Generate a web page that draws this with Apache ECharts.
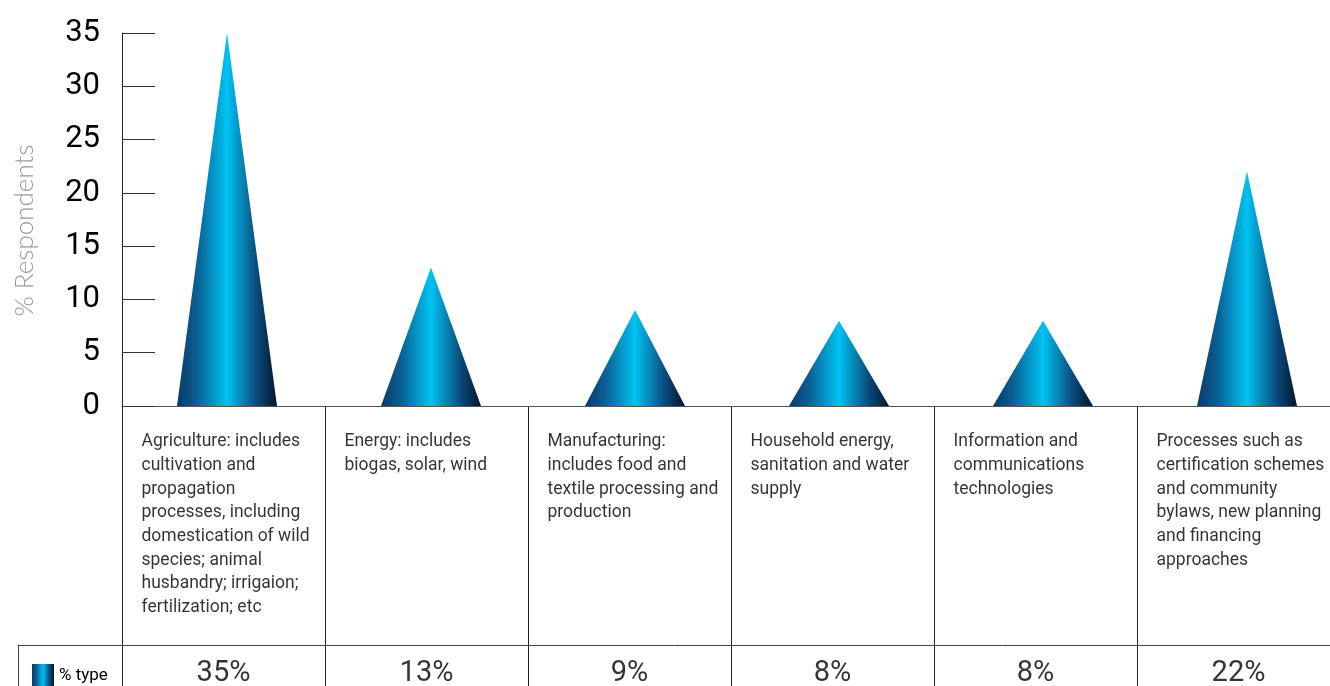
<!DOCTYPE html>
<html>
<head>
<meta charset="utf-8">
<script src="https://cdn.jsdelivr.net/npm/echarts@6/dist/echarts.min.js"></script>
<style>
html,body{margin:0;padding:0;background:#fff;}
#main{width:1330px;height:686px;}
</style>
</head>
<body>
<div id="main"></div>
<script>
// ---- data ----
const categories = [
  "Agriculture: includes\ncultivation and\npropagation\nprocesses, including\ndomestication of wild\nspecies; animal\nhusbandry; irrigaion;\nfertilization; etc",
  "Energy: includes\nbiogas, solar, wind",
  "Manufacturing:\nincludes food and\ntextile processing and\nproduction",
  "Household energy,\nsanitation and water\nsupply",
  "Information and\ncommunications\ntechnologies",
  "Processes such as\ncertification schemes\nand community\nbylaws, new planning\nand financing\napproaches"
];
const values = [35, 13, 9, 8, 8, 22];
const seriesName = "% type";
const yAxisName = "% Respondents";
const yTicks = [0, 5, 10, 15, 20, 25, 30, 35];

// ---- chart ----
const FONT = "Roboto, 'Liberation Sans', sans-serif";
const grad = {
  type: 'linear', x: 0, y: 0, x2: 1, y2: 0,
  colorStops: [
    {offset: 0, color: '#0a3a68'},
    {offset: 0.2, color: '#0a5f92'},
    {offset: 0.5, color: '#00c3f2'},
    {offset: 0.8, color: '#0a4a7a'},
    {offset: 1, color: '#04142c'}
  ]
};
const chart = echarts.init(document.getElementById('main'), null, {renderer: 'canvas'});
const option = {
  backgroundColor: '#fff',
  animation: false,
  textStyle: {fontFamily: FONT},
  legend: {
    data: [seriesName],
    left: 27, top: 659,
    icon: 'rect', itemWidth: 22, itemHeight: 24, itemGap: 6,
    textStyle: {fontFamily: FONT, fontSize: 17, color: '#000'}
  },
  grid: [
    {left: 125, top: 33, width: 1224, height: 373, containLabel: false, outerBoundsMode: 'none'},
    {left: 122, top: 406, width: 1218, height: 280, containLabel: false, outerBoundsMode: 'none'},
    {left: 18, top: 645, width: 1340, height: 41, containLabel: false, outerBoundsMode: 'none'}
  ],
  xAxis: [
    {gridIndex: 0, type: 'category', data: categories,
     axisLine: {show: false}, axisTick: {show: false}, axisLabel: {show: false}, splitLine: {show: false}},
    {gridIndex: 1, type: 'category', data: categories, position: 'top',
     axisLine: {show: true, lineStyle: {color: '#555', width: 1}},
     axisTick: {show: false}, axisLabel: {show: false},
     splitLine: {show: true, showMinLine: true, showMaxLine: true, lineStyle: {color: '#222', width: 1}}},
    {gridIndex: 2, type: 'value', min: 0, max: 1, position: 'top',
     axisLine: {show: true, onZero: false, lineStyle: {color: '#444', width: 1}},
     axisTick: {show: false}, axisLabel: {show: false}, splitLine: {show: false}}
  ],
  yAxis: [
    {gridIndex: 0, type: 'value', min: yTicks[0], max: yTicks[yTicks.length - 1], interval: yTicks[1] - yTicks[0],
     offset: 3,
     name: yAxisName, nameLocation: 'middle', nameGap: 84, nameRotate: 90,
     nameTextStyle: {fontFamily: 'Lato, "Open Sans", sans-serif', fontWeight: 300, fontSize: 26, color: '#9a9a9a', padding: [0, 0, 0, -22]},
     axisLine: {show: true, lineStyle: {color: '#222', width: 1}},
     axisTick: {show: true, inside: true, length: 33, lineStyle: {color: '#333', width: 1}},
     axisLabel: {fontFamily: FONT, fontSize: 31, color: '#000', margin: 22},
     splitLine: {show: false}},
    {gridIndex: 1, type: 'value', min: 0, max: 280, inverse: true, show: false},
    {gridIndex: 2, type: 'value', min: 0, max: 1,
     axisLine: {show: true, onZero: false, lineStyle: {color: '#444', width: 1}},
     axisTick: {show: false}, axisLabel: {show: false}, splitLine: {show: false}}
  ],
  series: [
    {
      name: seriesName, type: 'pictorialBar', xAxisIndex: 0, yAxisIndex: 0,
      symbol: 'triangle', barWidth: 100,
      itemStyle: {color: grad},
      data: values, z: 5
    },
    {
      type: 'scatter', xAxisIndex: 1, yAxisIndex: 1, symbolSize: 0, silent: true,
      data: categories.map((c, i) => [i, 24]),
      label: {show: true, position: 'inside', align: 'left', verticalAlign: 'top', offset: [-82, 0],
        fontFamily: FONT, fontSize: 17.5, lineHeight: 23.7, color: '#000',
        formatter: p => categories[p.dataIndex]}
    },
    {
      type: 'scatter', xAxisIndex: 1, yAxisIndex: 1, symbolSize: 0, silent: true,
      data: values.map((v, i) => [i, 268]),
      label: {show: true, position: 'inside', align: 'center', verticalAlign: 'middle',
        fontFamily: FONT, fontSize: 29, color: '#000',
        formatter: p => values[p.dataIndex] + '%'}
    }
  ]
};
chart.setOption(option);
</script>
</body>
</html>
